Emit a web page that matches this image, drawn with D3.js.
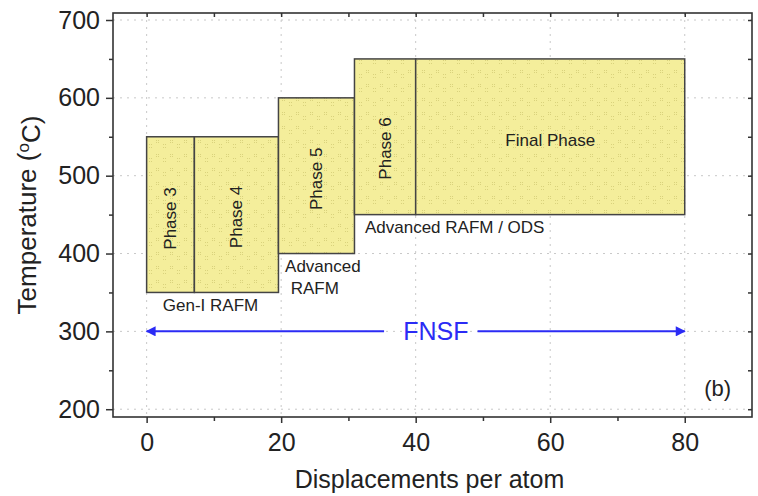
<!DOCTYPE html>
<html>
<head>
<meta charset="utf-8">
<script src="https://cdn.jsdelivr.net/npm/d3@7"></script>
<style>
  body { margin: 0; background: #fff; }
  text { font-family: "Liberation Sans", Arial, sans-serif; fill: #222; }
</style>
</head>
<body>
<div id="chart"><svg></svg></div>
<script>
// phases: dpa range and temperature window
var phaseNames = ["Phase 3", "Phase 4", "Phase 5", "Phase 6", "Final Phase"];
var dpaStart = [0, 7.1, 19.6, 30.9, 40];
var dpaEnd = [7.1, 19.6, 30.9, 40, 80];
var tempLow = [350, 350, 400, 450, 450];
var tempHigh = [550, 550, 600, 650, 650];
var labelTemp = [445, 447, 496, 535, 546];

var xTicks = [0, 20, 40, 60, 80];
var yTicks = [200, 300, 400, 500, 600, 700];
var fnsfRange = [0, 80];
var fnsfTemp = 300;

var width = 758,
    height = 496,
    margin = {top: 13, right: 6, bottom: 79, left: 113};

var svg = d3.select("#chart svg").attr("width", width).attr("height", height);
var w = width - margin.left - margin.right,
    h = height - margin.top - margin.bottom;

var x = d3.scaleLinear().domain([-5, 90]).range([0, w]);
var y = d3.scaleLinear().domain([190, 709]).range([h, 0]);

// dotted fill like the Origin pattern
var defs = svg.append("defs");
var pat = defs.append("pattern")
    .attr("id", "dots")
    .attr("width", 14).attr("height", 14)
    .attr("patternUnits", "userSpaceOnUse");
pat.append("rect").attr("width", 14).attr("height", 14).attr("fill", "#f4ee9b");
[[1, 1], [3, 1], [1, 3], [3, 3], [8, 5], [10, 5], [8, 8], [10, 8]].forEach(function(p) {
    pat.append("rect").attr("x", p[0]).attr("y", p[1]).attr("width", 1).attr("height", 1)
        .attr("fill", "#d9d27c");
});
defs.append("marker")
    .attr("id", "head")
    .attr("viewBox", "0 0 10 10")
    .attr("refX", 9).attr("refY", 5)
    .attr("markerWidth", 6).attr("markerHeight", 5)
    .attr("orient", "auto-start-reverse")
    .append("path").attr("d", "M0,0L10,5L0,10z").attr("fill", "#2b2bf5");

var g = svg.append("g").attr("transform", "translate(" + margin.left + "," + margin.top + ")");

// grid
g.append("g").selectAll("line").data(xTicks).enter().append("line")
    .attr("x1", d => x(d)).attr("x2", d => x(d))
    .attr("y1", 0).attr("y2", h)
    .attr("stroke", "#c8c8c8").attr("stroke-width", 1).attr("stroke-dasharray", "2,5");
g.append("g").selectAll("line").data(yTicks).enter().append("line")
    .attr("y1", d => y(d)).attr("y2", d => y(d))
    .attr("x1", 0).attr("x2", w)
    .attr("stroke", "#c8c8c8").attr("stroke-width", 1).attr("stroke-dasharray", "2,5");

// phase boxes
var idx = d3.range(phaseNames.length);
g.append("g").selectAll("rect").data(idx).enter().append("rect")
    .attr("x", i => x(dpaStart[i]))
    .attr("y", i => y(tempHigh[i]))
    .attr("width", i => x(dpaEnd[i]) - x(dpaStart[i]))
    .attr("height", i => y(tempLow[i]) - y(tempHigh[i]))
    .attr("fill", "url(#dots)")
    .attr("stroke", "#444").attr("stroke-width", 1.5);

g.append("g").selectAll("text").data(idx).enter().append("text")
    .attr("transform", function(i) {
        var cx = x((dpaStart[i] + dpaEnd[i]) / 2), cy = y(labelTemp[i]);
        return i < 4 ? "translate(" + cx + "," + cy + ") rotate(-90)" : "translate(" + cx + "," + cy + ")";
    })
    .attr("text-anchor", "middle")
    .attr("dy", "0.35em")
    .style("font-size", "17px")
    .text(i => phaseNames[i]);

// material notes
var notes = g.append("g").style("font-size", "17px").attr("text-anchor", "middle");
notes.append("text").attr("x", x(9.5)).attr("y", y(326)).text("Gen-I RAFM");
notes.append("text").attr("x", x(26.2)).attr("y", y(376)).text("Advanced");
notes.append("text").attr("x", x(25)).attr("y", y(348)).text("RAFM");
notes.append("text").attr("x", x(45.8)).attr("y", y(427)).text("Advanced RAFM / ODS");

// FNSF arrow, broken around the label
g.append("line")
    .attr("x1", x(fnsfRange[0])).attr("x2", x(35.3))
    .attr("y1", y(fnsfTemp)).attr("y2", y(fnsfTemp))
    .attr("stroke", "#2b2bf5").attr("stroke-width", 2)
    .attr("marker-start", "url(#head)");
g.append("line")
    .attr("x1", x(49.2)).attr("x2", x(fnsfRange[1]))
    .attr("y1", y(fnsfTemp)).attr("y2", y(fnsfTemp))
    .attr("stroke", "#2b2bf5").attr("stroke-width", 2)
    .attr("marker-end", "url(#head)");
g.append("text")
    .attr("x", x(43)).attr("y", y(fnsfTemp)).attr("dy", "0.36em")
    .attr("text-anchor", "middle")
    .style("font-size", "25px").style("fill", "#2b2bf5")
    .text("FNSF");

g.append("text")
    .attr("x", x(84.9)).attr("y", y(217))
    .attr("text-anchor", "middle")
    .style("font-size", "22px")
    .text("(b)");

// axes
var xMinor = d3.range(10, 90, 20), yMinor = d3.range(250, 700, 100);
function styleAxis(sel) {
    sel.select(".domain").remove();
    sel.selectAll("line").attr("stroke", "#333").attr("stroke-width", 1.5);
    sel.selectAll("text").style("font-size", "25px").style("fill", "#222")
        .style("font-family", "Liberation Sans, Arial, sans-serif");
}
g.append("g").attr("transform", "translate(0," + h + ")")
    .call(d3.axisBottom(x).tickValues(xTicks).tickSize(6).tickPadding(10).tickFormat(d3.format("d")))
    .call(styleAxis);
g.append("g").attr("transform", "translate(0," + h + ")")
    .call(d3.axisBottom(x).tickValues(xMinor).tickSize(4).tickFormat(""))
    .call(styleAxis);
g.append("g")
    .call(d3.axisLeft(y).tickValues(yTicks).tickSize(7).tickPadding(6).tickFormat(d3.format("d")))
    .call(styleAxis);
g.append("g")
    .call(d3.axisLeft(y).tickValues(yMinor).tickSize(4).tickFormat(""))
    .call(styleAxis);
// mirrored inward ticks on top and right
g.append("g").call(d3.axisBottom(x).tickValues(xTicks.concat(xMinor)).tickSize(4).tickFormat("")).call(styleAxis);
g.append("g").attr("transform", "translate(" + w + ",0)")
    .call(d3.axisLeft(y).tickValues(yTicks.concat(yMinor)).tickSize(4).tickFormat("")).call(styleAxis);

g.append("rect").attr("width", w).attr("height", h)
    .attr("fill", "none").attr("stroke", "#333").attr("stroke-width", 1.6);

// titles
g.append("text")
    .attr("x", w / 2 - 3).attr("y", h + 71)
    .attr("text-anchor", "middle")
    .style("font-size", "25px")
    .text("Displacements per atom");
var yt = g.append("text")
    .attr("transform", "translate(" + (-77) + "," + (h / 2) + ") rotate(-90)")
    .attr("text-anchor", "middle")
    .style("font-size", "26px");
yt.append("tspan").text("Temperature (");
yt.append("tspan").attr("dy", "-0.4em").style("font-size", "17px").text("o");
yt.append("tspan").attr("dy", "0.4em").text("C)");
</script>
</body>
</html>
